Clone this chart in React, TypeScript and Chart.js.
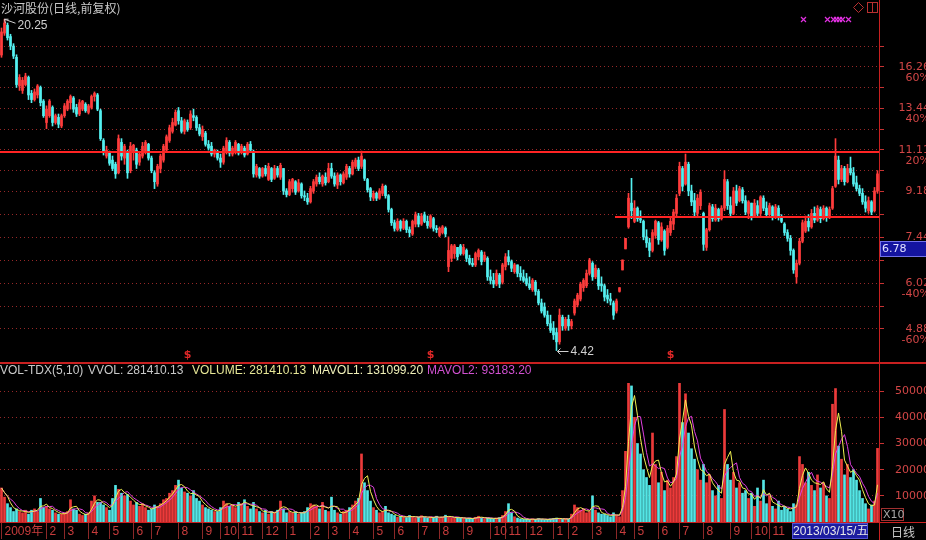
import React, { useEffect, useRef } from 'react';
import { Chart, registerables } from 'chart.js';

Chart.register(...registerables);

// ---- daily (resampled) K-line data of 沙河股份 ----
const OPEN = [
  17.18, 19.0, 19.7, 18.7, 17.9, 17.0, 14.9, 14.6, 15.0, 15.5,
  14.4, 14.0, 14.3, 14.8, 13.9, 12.6, 13.0, 13.5, 12.6, 12.9,
  12.4, 13.0, 13.4, 13.8, 14.1, 13.5, 13.1, 13.4, 13.7, 13.2,
  13.5, 14.2, 14.3, 13.3, 11.6, 10.8, 11.0, 10.6, 10.4, 10.0,
  11.5, 10.7, 11.0, 10.1, 11.0, 11.1, 10.5, 10.8, 11.0, 11.4,
  10.7, 10.0, 9.5, 10.2, 10.6, 11.1, 11.6, 12.1, 12.45, 13.3,
  12.7, 12.1, 12.6, 12.3, 13.0, 12.9, 12.3, 11.8, 12.0, 11.4,
  11.3, 10.9, 11.0, 10.7, 10.5, 11.0, 11.5, 10.9, 11.0, 11.4,
  11.0, 11.2, 10.9, 11.4, 11.0, 9.9, 10.2, 9.85, 10.2, 9.7,
  10.2, 9.75, 10.2, 9.8, 10.2, 9.2, 9.05, 9.3, 9.6, 9.2,
  9.5, 9.0, 8.9, 8.75, 9.2, 9.5, 9.8, 9.5, 9.8, 9.6,
  10.2, 9.85, 9.45, 9.9, 9.55, 9.8, 10.2, 9.95, 10.3, 10.6,
  10.3, 10.6, 9.7, 9.3, 8.9, 9.1, 8.9, 9.1, 9.4, 9.0,
  8.45, 7.95, 7.7, 8.0, 7.75, 8.0, 7.7, 7.55, 7.9, 8.2,
  7.9, 8.25, 8.0, 7.8, 8.1, 7.75, 7.5, 7.6, 7.75, 6.5,
  6.75, 6.9, 7.1, 7.15, 6.9, 7.0, 6.75, 6.6, 6.55, 6.8,
  6.95, 6.7, 6.75, 6.2, 6.1, 6.0, 6.25, 6.05, 6.5, 6.8,
  6.65, 6.35, 6.55, 6.3, 6.2, 6.15, 6.0, 5.85, 6.05, 5.8,
  5.5, 5.4, 5.2, 5.0, 4.9, 4.8, 4.6, 5.15, 4.9, 5.1,
  4.95, 5.25, 5.45, 5.6, 5.9, 5.95, 6.3, 6.6, 6.2, 6.4,
  6.0, 5.95, 5.7, 5.6, 5.5, 5.3, 5.8, 6.4, 7.05, 7.8,
  8.7, 8.0, 8.5, 8.1, 8.0, 7.45, 7.25, 7.0, 7.5, 7.95,
  7.35, 7.65, 7.1, 7.6, 7.9, 8.3, 9.1, 10.2, 9.5, 10.4,
  9.2, 8.8, 8.3, 8.6, 8.3, 7.1, 7.7, 8.55, 8.05, 8.45,
  8.1, 8.5, 9.6, 8.6, 8.3, 9.2, 8.8, 9.25, 8.8, 8.3,
  8.7, 8.2, 8.6, 8.3, 8.9, 8.5, 8.25, 8.55, 8.15, 8.5,
  8.15, 7.9, 7.6, 7.4, 7.0, 6.2, 6.6, 7.3, 7.65, 8.0,
  7.8, 8.3, 8.05, 8.45, 8.1, 8.5, 8.15, 8.5, 9.4, 10.6,
  9.7, 10.2, 9.6, 10.2, 10.0, 9.55, 9.3, 9.1, 8.75, 8.4,
  8.75, 8.4, 9.2,
];
const HIGH = [
  19.45, 20.25, 19.9, 18.9, 18.1, 17.2, 15.7, 15.5, 15.8, 15.6,
  14.6, 14.7, 15.0, 14.9, 14.0, 13.6, 14.0, 13.6, 13.1, 13.1,
  13.1, 13.75, 14.0, 14.3, 14.2, 13.7, 14.0, 13.95, 13.8, 13.7,
  14.3, 14.5, 14.4, 13.4, 11.7, 11.3, 11.05, 10.8, 10.5, 11.9,
  11.7, 11.4, 11.1, 11.5, 11.4, 11.2, 11.0, 11.5, 11.6, 11.45,
  10.8, 10.1, 10.4, 10.9, 11.4, 11.9, 12.45, 12.85, 13.35, 13.5,
  12.9, 12.8, 12.75, 13.3, 13.4, 13.0, 12.5, 12.4, 12.1, 11.6,
  11.5, 11.15, 11.1, 10.9, 11.3, 11.75, 11.6, 11.3, 11.6, 11.45,
  11.4, 11.3, 11.5, 11.55, 11.1, 10.4, 10.25, 10.25, 10.35, 10.45,
  10.25, 10.35, 10.3, 10.45, 10.2, 9.3, 9.7, 9.75, 9.65, 9.7,
  9.55, 9.2, 9.1, 9.4, 9.7, 9.9, 10.0, 9.9, 10.0, 10.45,
  10.45, 10.0, 10.0, 9.95, 10.05, 10.4, 10.3, 10.6, 10.7, 10.75,
  11.05, 10.65, 9.75, 9.35, 9.2, 9.15, 9.3, 9.5, 9.45, 9.05,
  8.5, 8.05, 8.1, 8.05, 8.1, 8.05, 7.8, 8.05, 8.35, 8.3,
  8.3, 8.35, 8.2, 8.25, 8.15, 7.85, 7.8, 7.85, 7.8, 7.45,
  7.2, 7.2, 7.1, 7.2, 7.2, 7.05, 6.85, 6.75, 6.95, 7.05,
  7.0, 6.95, 6.8, 6.4, 6.3, 6.4, 6.3, 6.6, 6.9, 7.0,
  6.7, 6.6, 6.55, 6.5, 6.4, 6.3, 6.2, 6.15, 6.1, 5.85,
  5.6, 5.5, 5.3, 5.2, 5.05, 4.9, 5.35, 5.2, 5.15, 5.2,
  5.1, 5.6, 5.75, 6.05, 6.15, 6.4, 6.75, 6.65, 6.55, 6.45,
  6.2, 6.0, 5.85, 5.75, 5.55, 5.6, 5.9, 6.7, 7.4, 9.1,
  9.75, 8.8, 8.55, 8.4, 8.05, 7.7, 7.4, 7.7, 8.05, 8.0,
  7.95, 7.7, 7.85, 8.15, 8.45, 9.05, 10.5, 10.3, 10.9, 10.5,
  9.45, 9.1, 9.05, 9.25, 8.35, 7.75, 8.7, 8.65, 8.65, 8.5,
  8.6, 10.1, 9.7, 8.95, 9.35, 9.45, 9.4, 9.35, 9.0, 8.8,
  8.7, 8.85, 8.8, 9.0, 9.0, 8.75, 8.7, 8.6, 8.65, 8.6,
  8.25, 7.95, 7.7, 7.5, 7.05, 6.7, 7.4, 8.05, 8.2, 8.25,
  8.45, 8.55, 8.6, 8.55, 8.6, 8.55, 8.55, 9.4, 11.7, 10.8,
  10.35, 10.3, 10.4, 10.75, 10.25, 9.85, 9.45, 9.3, 9.0, 8.95,
  8.8, 9.35, 10.1,
];
const LOW = [
  17.0, 18.8, 18.4, 17.6, 16.9, 14.8, 14.6, 14.4, 14.9, 14.0,
  13.8, 13.9, 14.1, 13.6, 12.9, 12.25, 12.9, 12.4, 12.5, 12.3,
  12.3, 12.9, 13.3, 13.4, 13.2, 12.95, 13.0, 13.3, 13.2, 13.1,
  13.4, 13.9, 13.3, 11.6, 10.85, 10.7, 10.35, 10.1, 9.75, 9.95,
  10.6, 10.4, 9.75, 10.0, 10.6, 10.2, 10.35, 10.7, 10.9, 10.6,
  10.0, 9.3, 9.4, 10.0, 10.5, 11.0, 11.5, 12.0, 12.4, 12.5,
  12.0, 11.95, 12.1, 12.2, 12.7, 12.15, 11.85, 11.6, 11.3, 11.1,
  10.8, 10.75, 10.6, 10.25, 10.4, 10.9, 10.8, 10.8, 10.9, 10.85,
  10.9, 10.75, 10.85, 11.0, 9.8, 9.8, 9.75, 9.8, 9.85, 9.65,
  9.6, 9.7, 9.8, 9.7, 9.05, 8.95, 9.0, 9.15, 9.05, 9.15,
  8.9, 8.8, 8.65, 8.7, 9.1, 9.4, 9.5, 9.4, 9.45, 9.55,
  9.75, 9.4, 9.3, 9.45, 9.5, 9.7, 9.8, 9.9, 10.2, 10.1,
  10.2, 9.65, 9.15, 8.8, 8.8, 8.8, 8.85, 9.0, 8.9, 8.35,
  7.85, 7.65, 7.65, 7.65, 7.7, 7.6, 7.45, 7.5, 7.8, 7.8,
  7.85, 7.95, 7.75, 7.75, 7.65, 7.6, 7.45, 7.55, 7.45, 6.35,
  6.65, 6.75, 6.7, 6.85, 6.85, 6.65, 6.55, 6.5, 6.5, 6.7,
  6.55, 6.65, 6.1, 6.0, 5.9, 5.95, 5.9, 6.0, 6.4, 6.55,
  6.35, 6.3, 6.2, 6.1, 6.05, 5.95, 5.85, 5.8, 5.7, 5.45,
  5.25, 5.15, 4.95, 4.8, 4.65, 4.42, 4.55, 4.85, 4.85, 4.85,
  4.88, 5.2, 5.4, 5.55, 5.8, 5.9, 6.25, 6.1, 6.15, 5.85,
  5.8, 5.55, 5.5, 5.45, 5.1, 5.25, 5.78, 6.4, 7.05, 7.75,
  8.1, 7.95, 8.0, 7.95, 7.35, 7.1, 6.8, 6.95, 7.4, 7.2,
  7.3, 6.85, 7.05, 7.5, 7.7, 8.2, 9.0, 9.2, 9.45, 9.0,
  8.6, 8.2, 8.15, 8.45, 7.0, 7.0, 7.65, 8.0, 8.0, 8.0,
  8.05, 8.4, 8.45, 8.15, 8.25, 8.6, 8.75, 8.7, 8.25, 8.1,
  8.05, 8.15, 8.15, 8.2, 8.4, 8.15, 8.2, 8.05, 8.1, 8.05,
  7.95, 7.5, 7.3, 6.85, 6.3, 6.02, 6.55, 7.25, 7.6, 7.65,
  7.75, 7.95, 8.0, 7.95, 8.05, 8.0, 8.1, 8.45, 9.35, 9.5,
  9.6, 9.45, 9.55, 9.9, 9.4, 9.2, 9.0, 8.65, 8.35, 8.3,
  8.25, 8.35, 9.1,
];
const CLOSE = [
  19.1, 19.9, 18.6, 17.9, 17.1, 15.0, 15.5, 15.3, 15.6, 14.3,
  14.0, 14.5, 14.9, 13.8, 13.0, 13.4, 13.9, 12.6, 13.0, 12.5,
  13.0, 13.6, 13.9, 14.2, 13.4, 13.1, 13.8, 13.9, 13.3, 13.6,
  14.2, 14.4, 13.4, 11.7, 11.0, 11.1, 10.45, 10.2, 9.95, 11.7,
  10.8, 11.3, 10.0, 11.3, 11.35, 10.4, 10.9, 11.3, 11.5, 10.7,
  10.1, 9.6, 10.3, 10.8, 11.3, 11.8, 12.3, 12.6, 13.2, 12.7,
  12.1, 12.7, 12.2, 13.1, 12.9, 12.3, 11.95, 12.2, 11.4, 11.2,
  10.9, 11.1, 10.7, 10.5, 11.2, 11.6, 10.95, 11.2, 11.5, 10.95,
  11.3, 10.85, 11.4, 11.1, 9.95, 10.3, 9.85, 10.2, 9.95, 10.3,
  9.7, 10.2, 9.9, 10.35, 9.2, 9.05, 9.6, 9.7, 9.15, 9.55,
  9.0, 8.95, 8.75, 9.3, 9.6, 9.8, 9.6, 9.85, 9.55, 10.2,
  9.85, 9.5, 9.9, 9.6, 9.95, 10.3, 9.95, 10.5, 10.6, 10.2,
  10.8, 9.75, 9.25, 8.95, 9.1, 8.9, 9.2, 9.4, 9.0, 8.45,
  7.95, 7.75, 8.0, 7.75, 8.0, 7.7, 7.6, 8.0, 8.25, 7.9,
  8.2, 8.0, 7.85, 8.2, 7.75, 7.7, 7.75, 7.8, 7.55, 7.0,
  7.15, 7.15, 6.8, 6.9, 7.1, 6.75, 6.6, 6.55, 6.9, 7.0,
  6.65, 6.85, 6.2, 6.1, 6.0, 6.3, 6.0, 6.55, 6.8, 6.65,
  6.45, 6.55, 6.3, 6.2, 6.1, 6.0, 5.9, 6.1, 5.8, 5.5,
  5.3, 5.2, 5.0, 4.85, 4.75, 4.6, 5.2, 4.95, 5.1, 4.95,
  5.05, 5.55, 5.7, 6.0, 6.1, 6.3, 6.7, 6.2, 6.45, 5.95,
  5.95, 5.65, 5.6, 5.55, 5.2, 5.55, 5.9, 6.7, 7.4, 8.9,
  8.4, 8.5, 8.1, 8.05, 7.45, 7.25, 7.0, 7.6, 8.0, 7.35,
  7.8, 7.0, 7.75, 8.0, 8.35, 8.9, 10.3, 9.4, 10.5, 9.2,
  8.75, 8.35, 8.9, 9.15, 7.2, 7.7, 8.6, 8.1, 8.5, 8.1,
  8.5, 9.7, 8.6, 8.3, 9.2, 8.7, 9.3, 8.8, 8.35, 8.75,
  8.2, 8.7, 8.3, 8.95, 8.5, 8.25, 8.6, 8.15, 8.55, 8.15,
  8.0, 7.6, 7.4, 7.0, 6.4, 6.6, 7.3, 7.95, 8.0, 7.8,
  8.3, 8.05, 8.5, 8.1, 8.5, 8.15, 8.45, 9.3, 10.8, 9.7,
  10.2, 9.6, 10.2, 10.0, 9.5, 9.3, 9.1, 8.75, 8.5, 8.8,
  8.35, 9.2, 9.95,
];
// volume (x10 shares)
const VOLUME = [
  13000, 9500, 7000, 5500, 4000, 5000, 4000, 3500, 4500, 3000,
  4500, 5000, 4000, 9000, 5500, 6000, 5000, 4500, 3500, 3000,
  3000, 3500, 4000, 8500, 5000, 4500, 3000, 2500, 3000, 3500,
  8000, 10000, 7500, 7500, 6500, 5500, 4500, 9000, 14000, 12500,
  11000, 10000, 10500, 8000, 6500, 7500, 6000, 7000, 5500, 4500,
  5000, 6500, 6000, 7000, 8500, 9000, 11000, 12000, 14000, 16000,
  13000, 11500, 11000, 10000, 12000, 9000, 8000, 6500, 5500, 5000,
  4500, 4000, 4000, 5500, 8000, 7000, 6000, 6500, 5500, 7500,
  7000, 8500, 6000, 5000, 7500, 5000, 4000, 3500, 4500, 3000,
  4000, 3500, 4500, 8000, 5000, 3500, 4000, 3500, 4000, 3000,
  3500, 4000, 5500, 7000, 6500, 6000, 5000, 7500, 4500, 4000,
  9500, 4500, 3500, 3000, 4000, 4500, 5500, 6500, 8000, 9000,
  26000, 15000, 12000, 8000, 5500, 4500, 3500, 4000, 6000, 3500,
  3000, 2500, 1800, 2200, 2000, 1700, 2500, 2000, 1600, 1900,
  2400, 1800, 1500, 2000, 1700, 2200, 1600, 1800, 2600, 2000,
  1700, 1500, 1800, 1600, 1400, 1300, 1500, 1200, 1800, 2200,
  1500, 1300, 1600, 1400, 1200, 1500, 1700, 2500, 4000, 7000,
  3500, 2000, 1500, 1200, 1000, 1100, 900, 1200, 1000, 1300,
  1100, 900, 1000, 1200, 1400, 1500, 1200, 1000, 1300, 1100,
  3000, 6500, 5500, 4500, 5000, 3500, 4000, 10000, 4500, 3500,
  3000, 3000, 2500, 2000, 3500, 2500, 2000, 12000, 27000, 53000,
  52000, 40000, 30000, 26000, 20000, 17000, 14000, 34000, 22000, 15000,
  19000, 12000, 16000, 13000, 17000, 25000, 53000, 38000, 49000, 34000,
  28000, 24000, 20000, 16000, 22000, 15000, 18000, 12000, 10000, 14000,
  9000, 43000, 22000, 16000, 19000, 13000, 15000, 11000, 12000, 9000,
  11000, 6000, 13000, 8000, 16000, 7000, 10000, 6000, 5000, 8000,
  4500, 6000, 5000, 4000, 7000, 6500, 25000, 22000, 15000, 19000,
  14000, 12000, 18000, 13000, 15000, 10000, 9000, 45000, 51000, 29000,
  24000, 18000, 22000, 17000, 20000, 16000, 12000, 9000, 7000, 5000,
  6500, 8000, 28141,
];

// month ticks on the time axis (index of first bar of each month)
const MONTH_TICKS = [0, 15, 21, 29, 36, 44, 50, 59, 67, 73, 79, 87, 95, 103, 109, 116, 124, 131, 139, 146, 154, 163, 168, 175, 184, 189, 197, 205, 211, 219, 226, 234, 243, 250, 256, 264, 271, 279, 284];
const MONTH_LABELS = ['2009年', '2', '3', '4', '5', '6', '7', '8', '9', '10', '11', '12', '1', '2', '3', '4', '5', '6', '7', '8', '9', '10', '11', '12', '1', '2', '3', '4', '5', '6', '7', '8', '9', '10', '11', '12', '1', '2', '3'];

// price axis grid values and labels
const PRICE_GRID = [4.88, 5.42, 6.02, 6.69, 7.44, 8.26, 9.18, 10.1, 11.11, 12.22, 13.44, 14.78, 16.26, 17.88];
const PRICE_TEXT = ['4.88', '', '6.02', '', '7.44', '', '9.18', '', '11.11', '', '13.44', '', '16.26', ''];
const PCT_TEXT = ['-60%', '', '-40%', '', '-20%', '', '', '', '20%', '', '40%', '', '60%', ''];
const VOL_GRID = [10000, 20000, 30000, 40000, 50000];

// drawn horizontal lines (price, first bar index)
const USER_LINE_VALUES = [11.02, 8.15];
const USER_LINE_START = [0, 205];
// ex-rights markers and info-mine markers (bar indices)
const DIVIDEND_IDX = [62, 143, 223];
const INFO_IDX = [267, 275, 277, 278, 279, 280, 282];
// resampled moving-average windows for VOL-TDX(5,10)
const MA_WINDOWS = [3, 5];

const N = CLOSE.length;
const LABELS = Array.from({ length: N }, (_, i) => {
  const k = MONTH_TICKS.indexOf(i);
  return k >= 0 ? MONTH_LABELS[k] : '';
});

function movingAverage(values: number[], n: number) {
  return values.map((_, i) => {
    const s = Math.max(0, i - n + 1);
    const slice = values.slice(s, i + 1);
    return slice.reduce((a, b) => a + b, 0) / slice.length;
  });
}

const FRAME = '#c82020';
const NUM_FONT = '"DejaVu Sans", sans-serif';
const TXT_FONT = '"Liberation Sans", "Noto Sans CJK SC", sans-serif';

const pricePlugin = {
  id: 'priceDecor',
  afterDatasetsDraw(chart: any) {
    const { ctx, chartArea, scales } = chart;
    const xs = scales.x, ys = scales.y;
    const half = (chartArea.right - chartArea.left) / N / 2;
    ctx.save();
    ctx.strokeStyle = '#ff2424';
    ctx.lineWidth = 2;
    USER_LINE_VALUES.forEach((v, k) => {
      const py = Math.round(ys.getPixelForValue(v));
      const x0 = USER_LINE_START[k] === 0 ? chartArea.left : xs.getPixelForValue(USER_LINE_START[k]) - half;
      ctx.beginPath();
      ctx.moveTo(x0, py);
      ctx.lineTo(chartArea.right, py);
      ctx.stroke();
    });
    ctx.restore();
  },
  afterDraw(chart: any) {
    const { ctx, chartArea, scales } = chart;
    const xs = scales.x, ys = scales.y;
    ctx.save();
    // axis frame
    ctx.fillStyle = FRAME;
    ctx.fillRect(chartArea.right, 0, 1, chart.height);
    // title
    ctx.font = '12px "Noto Sans CJK SC", sans-serif';
    ctx.fillStyle = '#c8c8c8';
    ctx.textBaseline = 'middle';
    ctx.textAlign = 'left';
    ctx.fillText('沙河股份(日线,前复权)', 1, 8);

    // high / low markers
    const hiVal = Math.max(...HIGH);
    const loVal = Math.min(...LOW);
    const iHi = HIGH.indexOf(hiVal);
    const iLo = LOW.indexOf(loVal);
    ctx.strokeStyle = '#d0d0d0';
    ctx.lineWidth = 1;
    ctx.font = '12px ' + TXT_FONT;
    ctx.fillStyle = '#d0d0d0';
    {
      const px = xs.getPixelForValue(iHi);
      const py = ys.getPixelForValue(hiVal);
      ctx.beginPath();
      ctx.moveTo(px, py); ctx.lineTo(px + 11, py + 4);
      ctx.moveTo(px, py); ctx.lineTo(px + 4, py);
      ctx.moveTo(px, py); ctx.lineTo(px + 1, py + 4);
      ctx.stroke();
      ctx.fillText(hiVal.toFixed(2), px + 13, py + 6);
    }
    {
      const px = xs.getPixelForValue(iLo);
      const py = Math.round(ys.getPixelForValue(loVal)) + 0.5;
      ctx.beginPath();
      ctx.moveTo(px + 1, py); ctx.lineTo(px + 12, py);
      ctx.moveTo(px + 1, py); ctx.lineTo(px + 4, py - 3);
      ctx.moveTo(px + 1, py); ctx.lineTo(px + 4, py + 3);
      ctx.stroke();
      ctx.fillText(loVal.toFixed(2), px + 14, py);
    }

    // ex-rights markers
    ctx.font = 'bold 11px ' + NUM_FONT;
    ctx.fillStyle = '#e02828';
    ctx.textAlign = 'center';
    DIVIDEND_IDX.forEach((i) => {
      ctx.fillText('$', xs.getPixelForValue(i), chartArea.bottom - 7);
    });

    // info mines
    ctx.strokeStyle = '#e030e0';
    ctx.lineWidth = 1.2;
    INFO_IDX.forEach((i) => {
      const px = Math.round(xs.getPixelForValue(i)) + 0.5;
      const py = 19.5;
      ctx.beginPath();
      ctx.moveTo(px - 2.5, py - 2.5); ctx.lineTo(px + 2.5, py + 2.5);
      ctx.moveTo(px + 2.5, py - 2.5); ctx.lineTo(px - 2.5, py + 2.5);
      ctx.stroke();
    });

    // top-right icons
    ctx.strokeStyle = '#b83030';
    ctx.lineWidth = 1;
    ctx.beginPath();
    ctx.moveTo(858.5, 2.5); ctx.lineTo(863.5, 7.5); ctx.lineTo(858.5, 12.5); ctx.lineTo(853.5, 7.5); ctx.closePath();
    ctx.stroke();
    ctx.strokeRect(867.5, 2.5, 10, 10);
    ctx.beginPath(); ctx.moveTo(872.5, 2.5); ctx.lineTo(872.5, 12.5); ctx.stroke();

    // cursor price box
    ctx.fillStyle = '#1414a0';
    ctx.fillRect(880, 241, 50, 16);
    ctx.strokeStyle = '#7070e8';
    ctx.strokeRect(880.5, 241.5, 49, 15);
    ctx.fillStyle = '#e0e0ff';
    ctx.textAlign = 'left';
    ctx.font = '11px ' + NUM_FONT;
    ctx.fillText('6.78', 882, 249.5);
    ctx.restore();
  },
};

const volPlugin = {
  id: 'volDecor',
  afterDraw(chart: any) {
    const { ctx, chartArea } = chart;
    ctx.save();
    ctx.fillStyle = FRAME;
    ctx.fillRect(0, 0, chart.width, 2);
    ctx.fillRect(0, chartArea.bottom, chart.width, 1);
    ctx.fillRect(chartArea.right, 0, 1, chart.height);

    ctx.font = '12px ' + TXT_FONT;
    ctx.textBaseline = 'middle';
    ctx.textAlign = 'left';
    const row: [string, string, number][] = [
      ['VOL-TDX(5,10)', '#c8c8c8', 0],
      ['VVOL: 281410.13', '#c8c8c8', 88],
      ['VOLUME: 281410.13', '#e6e696', 192],
      ['MAVOL1: 131099.20', '#f0f0b8', 312],
      ['MAVOL2: 93183.20', '#d050d0', 427],
    ];
    row.forEach(([t, c, x]) => { ctx.fillStyle = c; ctx.fillText(t, x, 9); });

    // X10 box
    ctx.strokeStyle = '#a03030';
    ctx.lineWidth = 1;
    ctx.strokeRect(881.5, 146.5, 22, 12);
    ctx.fillStyle = '#a8a8a8';
    ctx.font = '11px ' + NUM_FONT;
    ctx.fillText('X10', 883, 153);

    // date box
    ctx.fillStyle = '#1c1ca0';
    ctx.fillRect(792, 161, 76, 16);
    ctx.strokeStyle = '#5050d0';
    ctx.strokeRect(792.5, 161.5, 75, 15);
    ctx.fillStyle = '#e8e8e8';
    ctx.font = '12px ' + TXT_FONT;
    ctx.fillText('2013/03/15/五', 793, 169.5);

    ctx.fillStyle = '#c8c8c8';
    ctx.font = '12px "Noto Sans CJK SC", sans-serif';
    ctx.fillText('日线', 891, 170);
    ctx.restore();
  },
};

export default function App() {
  const priceRef = useRef<HTMLCanvasElement>(null);
  const volRef = useRef<HTMLCanvasElement>(null);

  useEffect(() => {
    const up = CLOSE.map((c, i) => c >= OPEN[i]);
    const candleColors = up.map((u) => (u ? '#ff3c3c' : '#54f0f0'));
    const volColors = up.map((u) => (u ? '#ec3a3a' : '#54e6e6'));
    const ma1 = movingAverage(VOLUME, MA_WINDOWS[0]);
    const ma2 = movingAverage(VOLUME, MA_WINDOWS[1]);

    const priceChart = new Chart(priceRef.current as HTMLCanvasElement, {
      type: 'bar',
      data: {
        labels: LABELS,
        datasets: [
          {
            label: 'wick',
            data: LOW.map((l, i) => [l, HIGH[i]]),
            backgroundColor: candleColors,
            barThickness: 1,
            grouped: false,
            order: 2,
          } as any,
          {
            label: 'body',
            data: OPEN.map((o, i) => [o, CLOSE[i]]),
            backgroundColor: candleColors,
            barThickness: 2,
            grouped: false,
            minBarLength: 1,
            order: 1,
          } as any,
        ],
      },
      options: {
        responsive: false,
        animation: false,
        devicePixelRatio: 1,
        events: [],
        layout: { padding: 0 },
        plugins: { legend: { display: false }, tooltip: { enabled: false } },
        scales: {
          x: { type: 'category', display: false, offset: true },
          y: {
            type: 'logarithmic',
            position: 'right',
            min: 4.193,
            max: 22.12,
            bounds: 'data',
            afterBuildTicks: (s: any) => { s.ticks = PRICE_GRID.map((v) => ({ value: v })); },
            afterFit: (s: any) => { s.width = 51; s.paddingTop = 0; s.paddingBottom = 0; },
            grid: { color: '#962828', lineWidth: 1, drawTicks: true, tickLength: 5, tickColor: '#c83232', tickBorderDash: [] },
            border: { display: false, dash: [1, 3] },
            ticks: {
              color: '#d24646',
              font: { family: NUM_FONT, size: 11, lineHeight: '11px' },
              padding: 14,
              crossAlign: 'far',
              autoSkip: false,
              callback: (_v: any, i: number) => {
                const t = PRICE_TEXT[i];
                if (!t) return '';
                const p = PCT_TEXT[i];
                return p ? ['', t, p] : t;
              },
            },
          } as any,
        },
      },
      plugins: [pricePlugin],
    } as any);

    const volChart = new Chart(volRef.current as HTMLCanvasElement, {
      type: 'bar',
      data: {
        labels: LABELS,
        datasets: [
          { type: 'line', label: 'MAVOL1', data: ma1, borderColor: '#f0f050', borderWidth: 1, pointRadius: 0, order: 0 } as any,
          { type: 'line', label: 'MAVOL2', data: ma2, borderColor: '#e040e0', borderWidth: 1, pointRadius: 0, order: 1 } as any,
          { type: 'bar', label: 'VOLUME', data: VOLUME, backgroundColor: volColors, barThickness: 2, order: 2 } as any,
        ],
      },
      options: {
        responsive: false,
        animation: false,
        devicePixelRatio: 1,
        events: [],
        layout: { padding: { top: 3, left: 0, right: 0, bottom: 0 } },
        plugins: { legend: { display: false }, tooltip: { enabled: false } },
        scales: {
          x: {
            type: 'category',
            offset: true,
            afterBuildTicks: (s: any) => { s.ticks = MONTH_TICKS.map((v) => ({ value: v })); },
            afterFit: (s: any) => { s.height = 18; s.paddingLeft = 0; s.paddingRight = 0; },
            grid: { offset: false, drawOnChartArea: false, drawTicks: true, tickLength: 17, tickColor: '#8c2828', color: '#8c2828' },
            border: { display: false },
            ticks: {
              autoSkip: false,
              maxRotation: 0,
              minRotation: 0,
              align: 'start',
              labelOffset: 3,
              padding: -15,
              color: '#c83c3c',
              font: { family: TXT_FONT, size: 12 },
            },
          } as any,
          y: {
            type: 'linear',
            position: 'right',
            min: 0,
            max: 60000,
            afterBuildTicks: (s: any) => { s.ticks = VOL_GRID.map((v) => ({ value: v })); },
            afterFit: (s: any) => { s.width = 51; s.paddingTop = 0; s.paddingBottom = 0; },
            grid: { color: '#962828', lineWidth: 1, drawTicks: true, tickLength: 5, tickColor: '#c83232', tickBorderDash: [] },
            border: { display: false, dash: [1, 3] },
            ticks: {
              color: '#d24646',
              font: { family: NUM_FONT, size: 11 },
              padding: 10.5,
              crossAlign: 'far',
              callback: (v: any) => String(v),
            },
          } as any,
        },
      },
      plugins: [volPlugin],
    } as any);

    return () => {
      priceChart.destroy();
      volChart.destroy();
    };
  }, []);

  return (
    <div style={{ position: 'fixed', left: 0, top: 0, width: 926, height: 540, overflow: 'hidden', background: '#000' }}>
      <canvas ref={priceRef} width={930} height={362} style={{ display: 'block', width: 930, height: 362 }} />
      <canvas ref={volRef} width={930} height={178} style={{ display: 'block', width: 930, height: 178 }} />
    </div>
  );
}
